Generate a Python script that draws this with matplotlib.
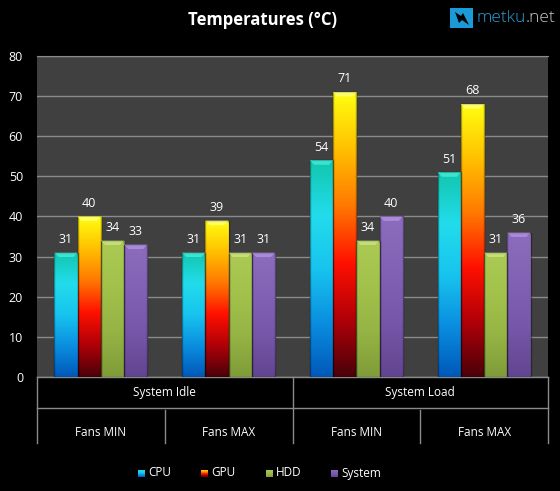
import numpy as np
import matplotlib.pyplot as plt
from matplotlib.colors import LinearSegmentedColormap
from matplotlib.patches import Rectangle, FancyBboxPatch, Polygon

plt.rcParams['font.family'] = ['Open Sans', 'DejaVu Sans']

# data
groups = ["System Idle", "System Load"]
fans = ["Fans MIN", "Fans MAX", "Fans MIN", "Fans MAX"]
series = ["CPU", "GPU", "HDD", "System"]
cpu = [31, 31, 54, 51]
gpu = [40, 39, 71, 68]
hdd = [34, 31, 34, 31]
system = [33, 31, 40, 36]
values = [cpu, gpu, hdd, system]

# bottom -> top gradient stops for each series
grads = [
    ["#0058b8", "#0a8ee0", "#18c4ee", "#22dcec", "#12c6ae"],
    ["#4a0008", "#b00008", "#ff1000", "#ff7800", "#ffc000", "#ffff10"],
    ["#7f9c38", "#95b444", "#a2c24c", "#acca54"],
    ["#624590", "#7556a8", "#8262b4", "#8c6cbc"],
]
cmaps = [LinearSegmentedColormap.from_list("g%d" % i, g) for i, g in enumerate(grads)]
caps = ["#50f0e0", "#ffff90", "#d0e888", "#b898e8"]

fig = plt.figure(figsize=(5.6, 4.91), dpi=100, facecolor="black")
ax = fig.add_axes([37 / 560, 1 - 377 / 491, 511 / 560, 321 / 491])
ax.set_facecolor("#404040")

n = len(fans)
x = np.arange(n)
w = 1 / 5.5
ax.set_xlim(-0.5, n - 0.5)
ax.set_ylim(0, 80)
ax.set_yticks(range(0, 81, 10))
ax.yaxis.grid(True, color="#8a8a8a", lw=1)
ax.set_axisbelow(True)
ax.tick_params(axis="y", length=0, colors="white", labelsize=9, pad=10)
ax.set_xticks([])
for s in ax.spines.values():
    s.set_visible(False)
ax.spines["top"].set_visible(True)
ax.spines["top"].set_color("#8a8a8a")

grad = np.linspace(0, 1, 256).reshape(-1, 1)
for k, vals in enumerate(values):
    bars = ax.bar(x + (k - 1.5) * w, vals, w, color="none", edgecolor="none", zorder=3)
    for b, v in zip(bars, vals):
        x0 = b.get_x()
        im = ax.imshow(grad, cmap=cmaps[k], origin="lower", aspect="auto",
                       extent=[x0, x0 + w, 0, v], zorder=2.5)
        im.set_clip_path(b)
        # darker side edges and lighter top cap
        ax.add_patch(Rectangle((x0, 0), w, v, fill=False, ec=(0, 0, 0, 0.35), lw=1, zorder=3))
        ax.add_patch(Polygon([[x0, v], [x0 + w, v], [x0 + w * 0.82, v - 1.1], [x0 + w * 0.18, v - 1.1]],
                             closed=True, fc=caps[k], ec="none", alpha=0.7, zorder=3.2))
        ax.text(x0 + w / 2, v + 1.7, str(v), ha="center", va="bottom", color="white",
                fontsize=9, zorder=4)
    ax.set_xlim(-0.5, n - 0.5)
    ax.set_ylim(0, 80)

# category table under the axis
lc = "#8a8a8a"
tr = ax.transAxes
r1 = -31 / 321
r2 = -66 / 321
ax.plot([0, 1], [0, 0], color=lc, lw=1, transform=tr, clip_on=False)
ax.plot([0, 1], [r1, r1], color=lc, lw=1, transform=tr, clip_on=False)
for xv in [0, 0.5, 1]:
    ax.plot([xv, xv], [0, r2], color=lc, lw=1, transform=tr, clip_on=False)
for xv in [0.25, 0.75]:
    ax.plot([xv, xv], [r1 - 2 / 321, r2], color=lc, lw=1, transform=tr, clip_on=False)
for i, g in enumerate(groups):
    ax.text(0.25 + 0.5 * i, r1 / 2, g, transform=tr, ha="center", va="center",
            color="white", fontsize=8.5)
for i, f in enumerate(fans):
    ax.text(0.125 + 0.25 * i, -55 / 321, f, transform=tr, ha="center", va="center",
            color="white", fontsize=8.5)

# legend
lx = [138, 201, 266, 331]
for k, name in enumerate(series):
    lax = fig.add_axes([lx[k] / 560, 1 - 477 / 491, 7 / 560, 7 / 491])
    lax.imshow(grad, cmap=cmaps[k], origin="lower", aspect="auto")
    lax.set_axis_off()
    fig.text((lx[k] + 10) / 560, 1 - 473 / 491, name, color="white", fontsize=8.5,
             ha="left", va="center")

# title and logo
fig.text(262 / 560, 1 - 20 / 491, "Temperatures (°C)", color="white", fontsize=12,
         fontweight="bold", ha="center", va="center")
fig.patches.append(FancyBboxPatch((450 / 560, 1 - 28 / 491), 23 / 560, 20 / 491,
                                  boxstyle="square,pad=0", fc="#1a9ad6", ec="none",
                                  transform=fig.transFigure, figure=fig))
fig.patches.append(Polygon([[455 / 560, 1 - 12 / 491], [461 / 560, 1 - 16 / 491],
                            [463 / 560, 1 - 13 / 491], [469 / 560, 1 - 25 / 491],
                            [462 / 560, 1 - 20 / 491], [459 / 560, 1 - 23 / 491]],
                           closed=True, fc="black", ec="none",
                           transform=fig.transFigure, figure=fig))
t = fig.text(476 / 560, 1 - 18 / 491, "metku", color="#2a9fd8", fontsize=12.5,
             fontweight="light", ha="left", va="center")
fig.canvas.draw()
bb = t.get_window_extent()
fig.text(bb.x1 / 560, 1 - 18 / 491, ".net", color="#c8c8c8", fontsize=12.5,
         fontweight="light", ha="left", va="center")

fig.savefig("out.png", dpi=100, facecolor="black")
